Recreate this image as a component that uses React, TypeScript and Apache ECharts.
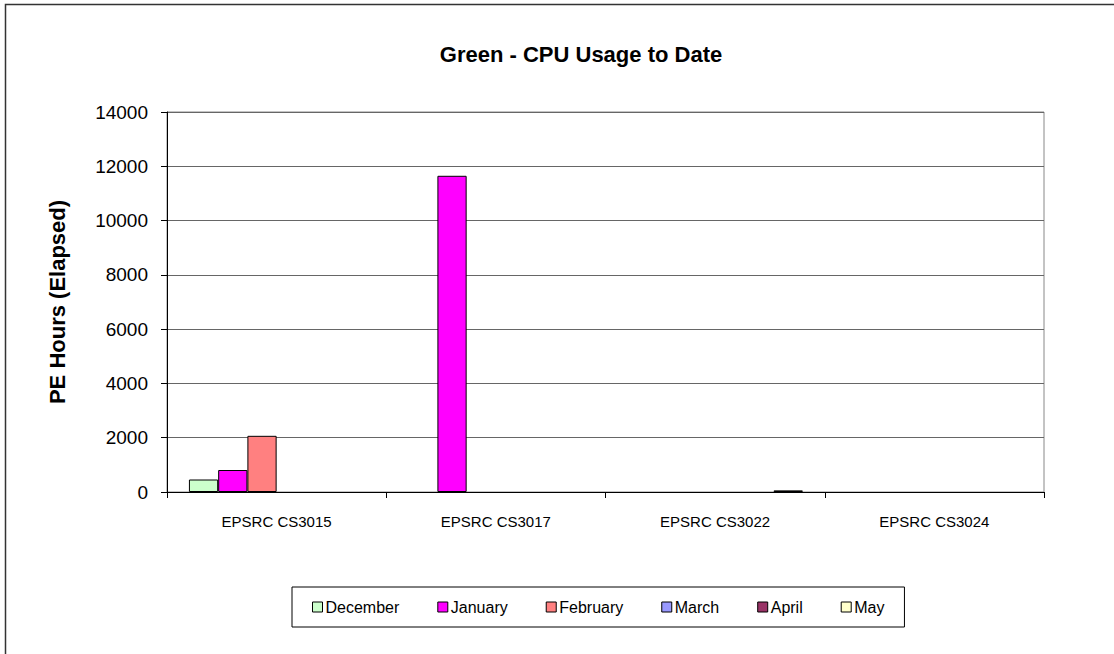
import React, { useEffect, useRef } from "react";
import * as echarts from "echarts";

const categories = ["EPSRC CS3015", "EPSRC CS3017", "EPSRC CS3022", "EPSRC CS3024"];
const december = [460, 0, 0, 0];
const january = [810, 11650, 0, 0];
const february = [2070, 0, 0, 0];
const march = [0, 0, 0, 0];
const april = [0, 0, 0, 0];
const may = [0, 0, 60, 0];

const seriesNames = ["December", "January", "February", "March", "April", "May"];
const seriesData = [december, january, february, march, april, may];
const seriesColors = ["#CCFFCC", "#FF00FF", "#FF8080", "#9999FF", "#993366", "#FFFFCC"];

const FONT = "'Liberation Sans', Arial, sans-serif";

export default function App() {
  const ref = useRef<HTMLDivElement>(null);
  useEffect(() => {
    document.body.style.margin = "0";
    const chart = echarts.init(ref.current!, undefined, { renderer: "svg" });
    chart.setOption({
      animation: false,
      backgroundColor: "#fff",
      textStyle: { fontFamily: FONT },
      title: {
        text: "Green - CPU Usage to Date",
        left: 576,
        top: 38,
        textAlign: "center",
        textStyle: { fontFamily: FONT, fontSize: 22, fontWeight: "bold", color: "#000" },
      },
      graphic: [
        {
          type: "rect",
          shape: { x: 5.5, y: 4.5, width: 1200, height: 800 },
          style: { fill: "none", stroke: "#333", lineWidth: 1.5 },
          silent: true,
        },
      ],
      legend: {
        left: 292,
        top: 587,
        orient: "horizontal",
        padding: [12, 20],
        itemGap: 38,
        itemWidth: 10,
        itemHeight: 10,
        borderColor: "#000",
        borderWidth: 1,
        icon: "rect",
        itemStyle: { borderColor: "#000", borderWidth: 1 },
        textStyle: { fontFamily: FONT, fontSize: 16, color: "#000", padding: [0, 0, 0, -2] },
        data: seriesNames,
      },
      grid: {
        left: 167,
        right: 70,
        top: 112,
        bottom: 162,
        show: true,
        borderColor: "#888",
        borderWidth: 1,
        containLabel: false,
      },
      xAxis: {
        type: "category",
        data: categories,
        axisLine: { show: true, lineStyle: { color: "#000", width: 1 } },
        axisTick: { show: true, alignWithLabel: false, inside: false, length: 6, lineStyle: { color: "#000" } },
        axisLabel: { fontFamily: FONT, fontSize: 15, color: "#000", margin: 22 },
        splitLine: { show: false },
      },
      yAxis: {
        type: "value",
        min: 0,
        max: 14000,
        interval: 2000,
        name: "PE Hours (Elapsed)",
        nameLocation: "middle",
        nameGap: 99,
        nameTextStyle: { fontFamily: FONT, fontSize: 22, fontWeight: "bold", color: "#000" },
        axisLine: { show: true, lineStyle: { color: "#000", width: 1 } },
        axisTick: { show: true, inside: false, length: 6, lineStyle: { color: "#000" } },
        axisLabel: {
          fontFamily: FONT,
          fontSize: 19,
          color: "#000",
          margin: 19,
          formatter: (v: number) => String(v),
        },
        splitLine: { show: true, lineStyle: { color: "#666", width: 1 } },
      },
      series: seriesNames.map((name, i) => ({
        name,
        type: "bar",
        data: seriesData[i].map((v) =>
          v === 0 ? { value: v, itemStyle: { borderWidth: 0, opacity: 0 } } : v
        ),
        barGap: "0%",
        barCategoryGap: "20%",
        itemStyle: { color: seriesColors[i], borderColor: "#000", borderWidth: 1 },
      })),
    });
    return () => chart.dispose();
  }, []);
  return <div ref={ref} style={{ width: 1114, height: 654 }} />;
}
